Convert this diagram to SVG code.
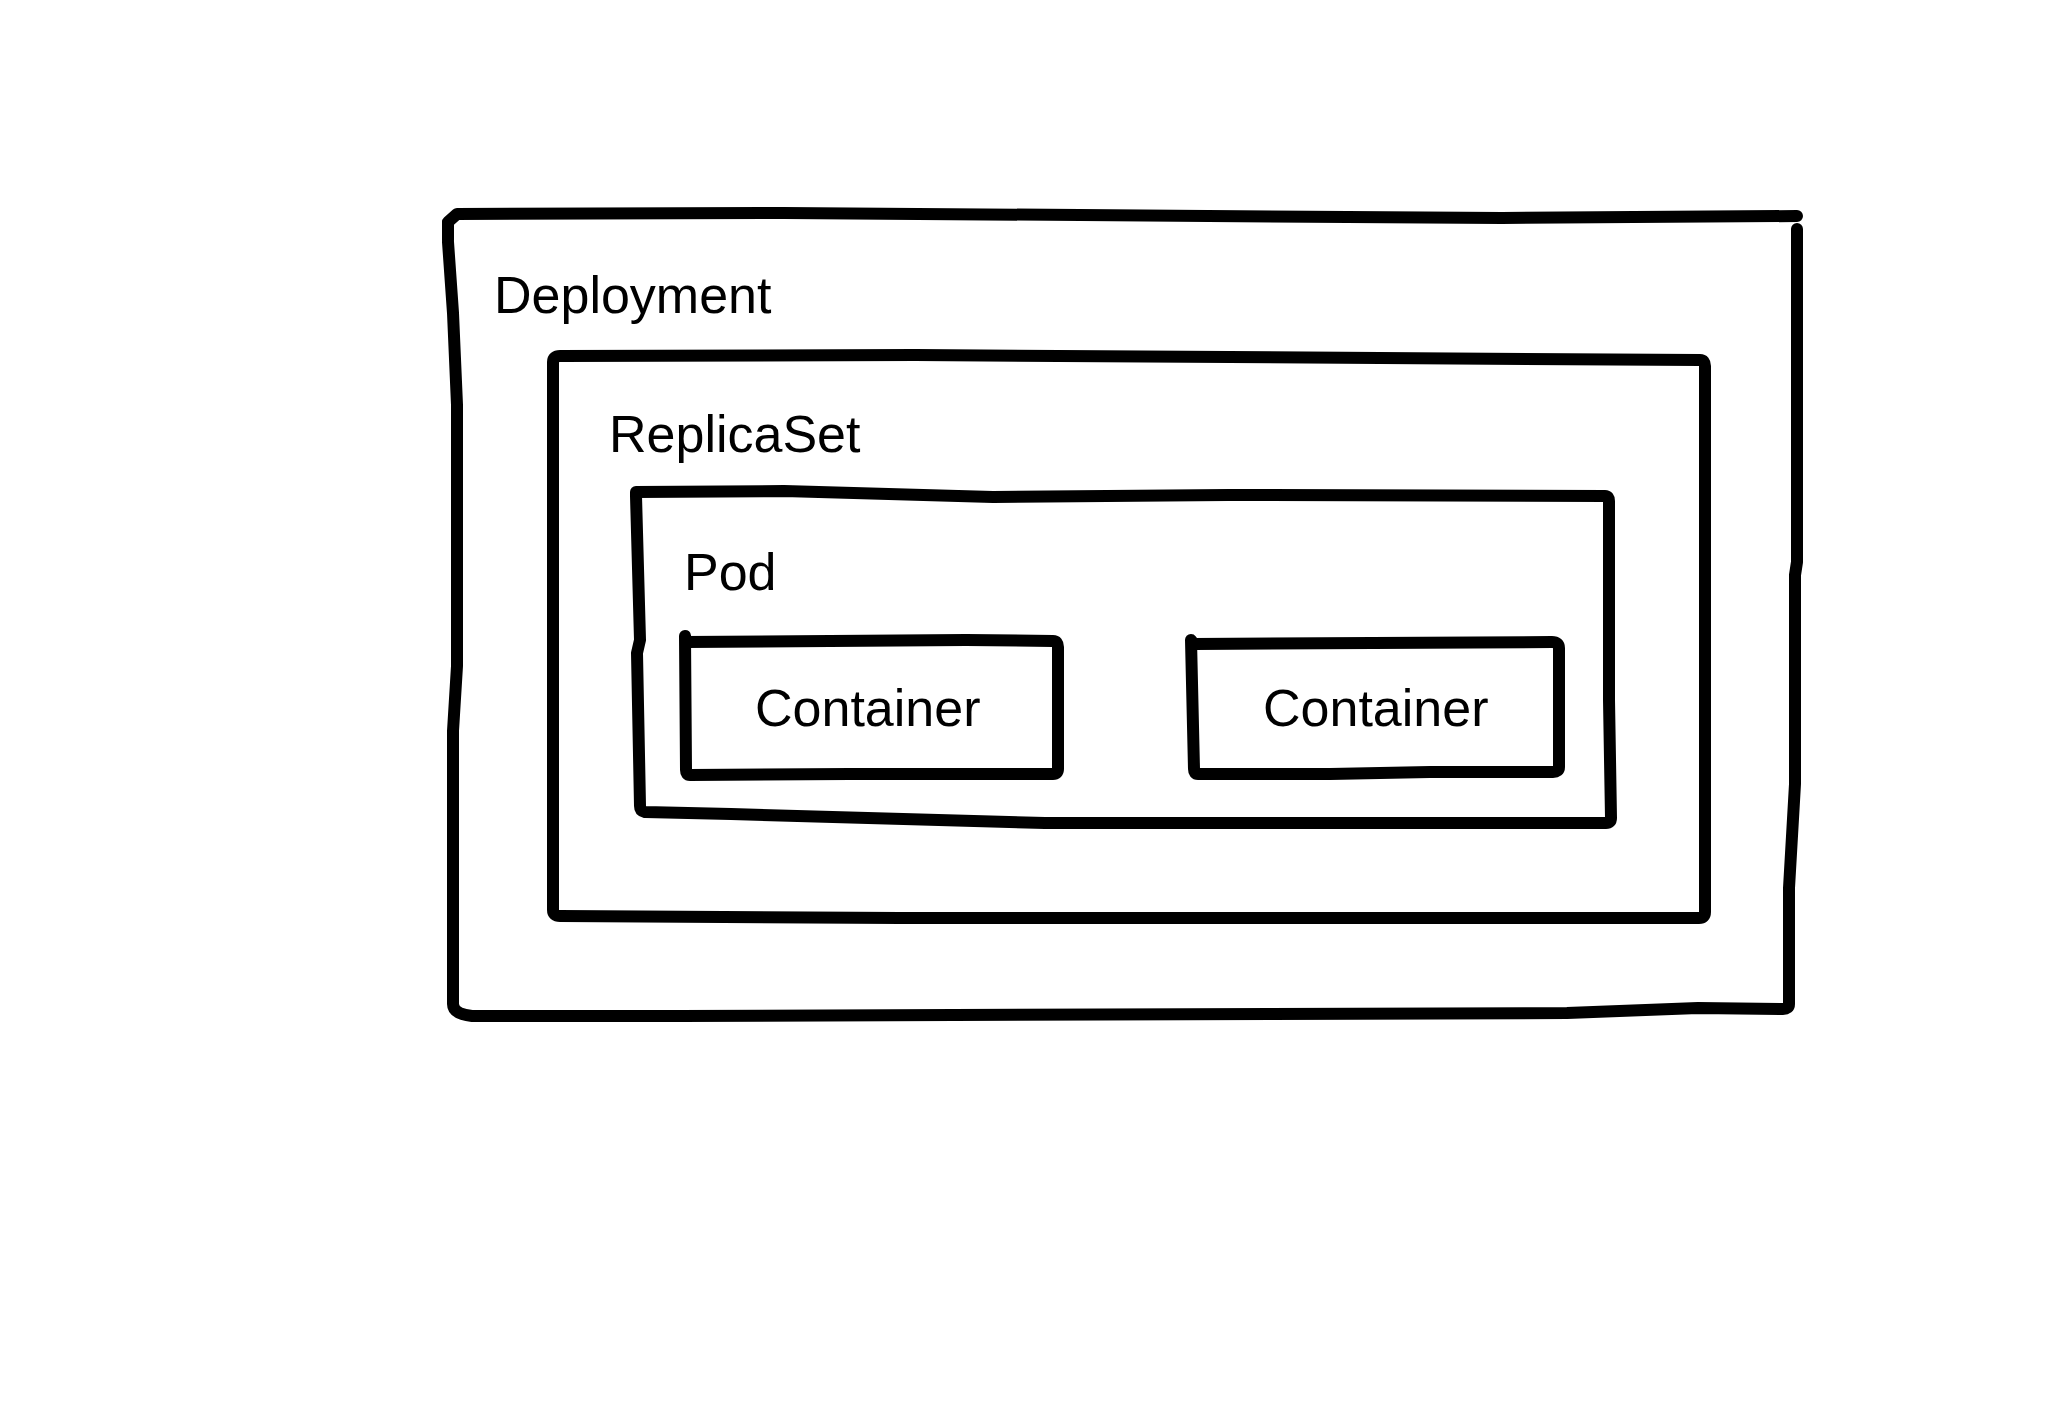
<svg xmlns="http://www.w3.org/2000/svg" width="2048" height="1408" viewBox="0 0 2048 1408">
<style>
.s{fill:none;stroke:#000;stroke-width:12;stroke-linecap:round;stroke-linejoin:round}
.t{font-family:"Liberation Sans",Arial,Helvetica,sans-serif;font-size:52px;fill:#000}
</style>
<rect width="2048" height="1408" fill="#fff"/>
<g id="deployment">
<path class="s" d="M448,240 L448,222 L457,214 L784,213 L1502,218 L1797,216"/>
<path class="s" d="M1797,229 L1797,562 L1795,575 L1795,784 L1789,888 L1789,1004 Q1789,1009 1783,1009 L1698,1008 L1567,1013 L680,1016 L472,1016 Q453,1014 453,1004 L453,731 L457,666 L457,405 L453,313 L448,242"/>
<text class="t" x="494" y="313">Deployment</text>
</g>
<g id="replicaset">
<path class="s" d="M553,362 Q553,356 560,356 L915,355 L1700,360 Q1705,360 1705,366 L1705,912 Q1705,918 1699,918 L900,918 L560,916 Q553,916 553,910 Z"/>
<text class="t" x="609" y="452">ReplicaSet</text>
</g>
<g id="pod">
<path class="s" d="M636,496 L636,492 L784,491 L993,497 L1228,495 L1605,496 Q1609,496 1609,501 L1609,700 L1611,818 Q1611,823 1606,823 L1045,823 L731,814 L645,812 Q640,811 640,806 L637,653 L640,640 L636,496"/>
<text class="t" x="684" y="590">Pod</text>
</g>
<g id="container1">
<path class="s" d="M685,636 L686,642 L966,640 L1053,641 Q1058,641 1058,647 L1058,769 Q1058,774 1053,774 L850,774 L690,775 Q686,775 686,770 Z"/>
<text class="t" x="755" y="726">Container</text>
</g>
<g id="container2">
<path class="s" d="M1191,640 L1194,644 L1552,642 Q1559,642 1559,648 L1559,767 Q1559,772 1553,772 L1430,772 L1330,774 L1198,774 Q1194,774 1194,769 Z"/>
<text class="t" x="1263" y="726">Container</text>
</g>
<g id="connectors"/>
</svg>
